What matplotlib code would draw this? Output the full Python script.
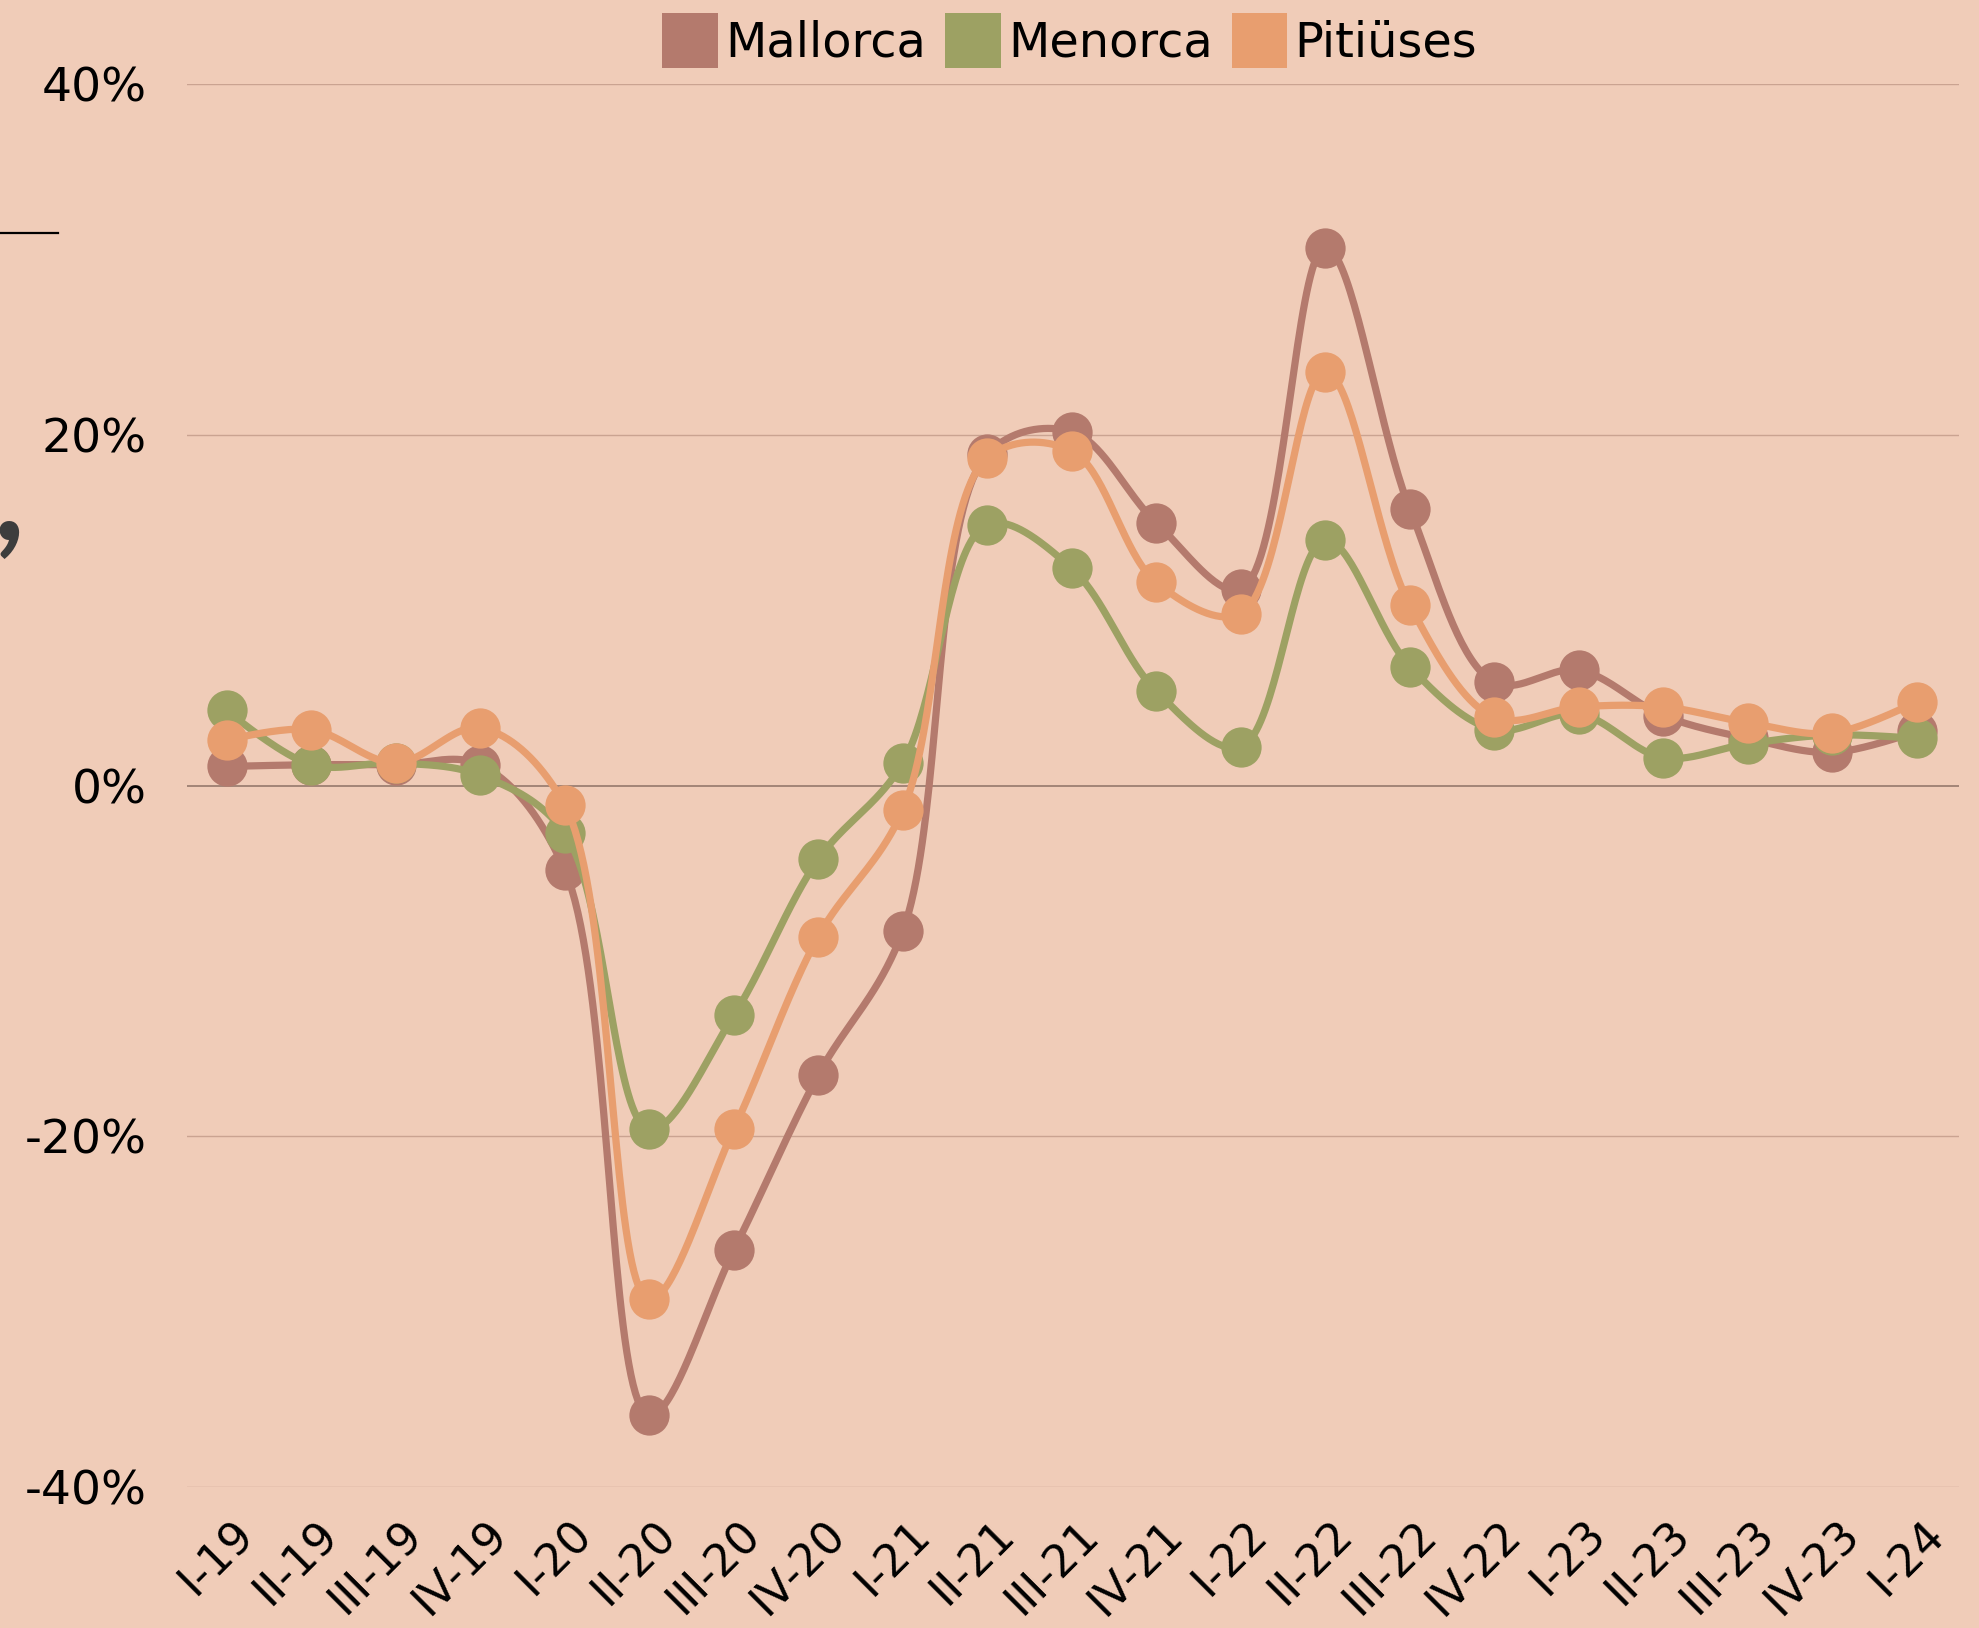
import numpy as np
import matplotlib
matplotlib.use("Agg")
import matplotlib.pyplot as plt
from matplotlib.patches import Patch
from matplotlib.lines import Line2D
from matplotlib.transforms import ScaledTranslation

quarters = ["I-19", "II-19", "III-19", "IV-19", "I-20", "II-20", "III-20", "IV-20",
            "I-21", "II-21", "III-21", "IV-21", "I-22", "II-22", "III-22", "IV-22",
            "I-23", "II-23", "III-23", "IV-23", "I-24"]
mallorca = [1.1, 1.2, 1.2, 1.2, -4.8, -35.9, -26.5, -16.5, -8.3, 18.9, 20.2, 15.0,
            11.2, 30.7, 15.8, 5.9, 6.6, 4.0, 2.7, 1.9, 3.1]
menorca = [4.3, 1.2, 1.3, 0.6, -2.7, -19.6, -13.1, -4.2, 1.3, 14.9, 12.4, 5.4,
           2.2, 14.0, 6.8, 3.2, 4.1, 1.6, 2.4, 2.9, 2.7]
pitiuses = [2.6, 3.2, 1.3, 3.3, -1.1, -29.3, -19.6, -8.6, -1.4, 18.7, 19.1, 11.6,
            9.8, 23.6, 10.3, 3.9, 4.5, 4.5, 3.6, 3.0, 4.8]
series_names = ["Mallorca", "Menorca", "Pitiüses"]
colors = ["#b47a6d", "#9da163", "#e89e6f"]
yticks = [-40, -20, 0, 20, 40]

BG = "#f0ccb8"


def catmull_rom_centripetal(P, alpha=0.5, n=40):
    """d3-style centripetal Catmull-Rom through display-space points P (N x 2)."""
    P = np.asarray(P, dtype=float)
    N = len(P)
    out = [P[0:1]]
    eps = 1e-12
    for i in range(N - 1):
        p1, p2 = P[i], P[i + 1]
        p0 = P[i - 1] if i > 0 else p1
        p3 = P[i + 2] if i + 2 < N else p2
        d01 = np.linalg.norm(p1 - p0)
        d12 = np.linalg.norm(p2 - p1)
        d23 = np.linalg.norm(p3 - p2)
        l01a, l12a, l23a = d01**alpha, d12**alpha, d23**alpha
        l01_2a, l12_2a, l23_2a = d01**(2 * alpha), d12**(2 * alpha), d23**(2 * alpha)
        c1 = p1.copy()
        c2 = p2.copy()
        if l01a > eps:
            a = 2 * l01_2a + 3 * l01a * l12a + l12_2a
            nn = 3 * l01a * (l01a + l12a)
            c1 = (p1 * a - p0 * l12_2a + p2 * l01_2a) / nn
        if l23a > eps:
            b = 2 * l23_2a + 3 * l23a * l12a + l12_2a
            m = 3 * l23a * (l23a + l12a)
            c2 = (p2 * b + p1 * l23_2a - p3 * l12_2a) / m
        t = np.linspace(0, 1, n)[1:, None]
        seg = ((1 - t)**3) * p1 + 3 * ((1 - t)**2) * t * c1 + 3 * (1 - t) * t**2 * c2 + t**3 * p2
        out.append(seg)
    return np.vstack(out)


plt.rcParams['font.family'] = ['DejaVu Sans']
fig = plt.figure(figsize=(19.79, 16.28), dpi=100, facecolor=BG)
ax = fig.add_axes([0.0945, 0.0866, 0.8954, 0.8615], facecolor=BG)
ax.set_xlim(-0.47, 20.5)
ax.set_ylim(-40, 40)

x = np.arange(len(quarters))
for name, vals, c in zip(series_names, [mallorca, menorca, pitiuses], colors):
    disp = ax.transData.transform(np.column_stack([x, vals]))
    curve = catmull_rom_centripetal(disp)
    data_curve = ax.transData.inverted().transform(curve)
    ax.plot(data_curve[:, 0], data_curve[:, 1], color=c, lw=5.2,
            solid_capstyle='round', solid_joinstyle='round', zorder=3, clip_on=False)
    ax.plot(x, vals, linestyle='none', marker='o', markersize=29, color=c,
            markeredgewidth=0, zorder=3, clip_on=False)

ax.set_yticks(yticks)
ax.set_yticklabels([f"{v}%" for v in yticks])
for v in yticks:
    ax.axhline(v, color="#9c7f72" if v == 0 else "#caa391", lw=1.3 if v == 0 else 1.0, zorder=1)
for s in ax.spines.values():
    s.set_visible(False)
ax.tick_params(axis='y', length=0, pad=29, labelsize=34, labelcolor='black')
ax.tick_params(axis='x', length=0, pad=6, labelsize=32, labelcolor='black')
ax.set_xticks(x)
ax.set_xticklabels(quarters, rotation=45, ha='right', va='top', rotation_mode='anchor')
for lbl in ax.get_xticklabels():
    lbl.set_transform(lbl.get_transform() + ScaledTranslation(0.05, -0.17, fig.dpi_scale_trans))

handles = [Patch(facecolor=c, edgecolor='none', label=n) for n, c in zip(series_names, colors)]
fig.legend(handles=handles, loc='center', bbox_to_anchor=(0.5405, 0.9752), ncol=3,
           frameon=False, fontsize=34.5, handlelength=1.16, handleheight=1.406,
           handletextpad=0.15, columnspacing=0.4, borderaxespad=0, borderpad=0)

# cropped artefacts at left edge
fig.add_artist(Line2D([0, 58 / 1979], [1 - 233 / 1628] * 2, transform=fig.transFigure,
                      color='black', lw=1.6))
fig.text(24 / 1979, 1 - 540 / 1628, ",", fontsize=95, fontweight='bold', color='#3d3d3d',
         ha='right', va='baseline', family=['Lato', 'DejaVu Sans'])

fig.savefig("out.png", dpi=100, facecolor=BG)
